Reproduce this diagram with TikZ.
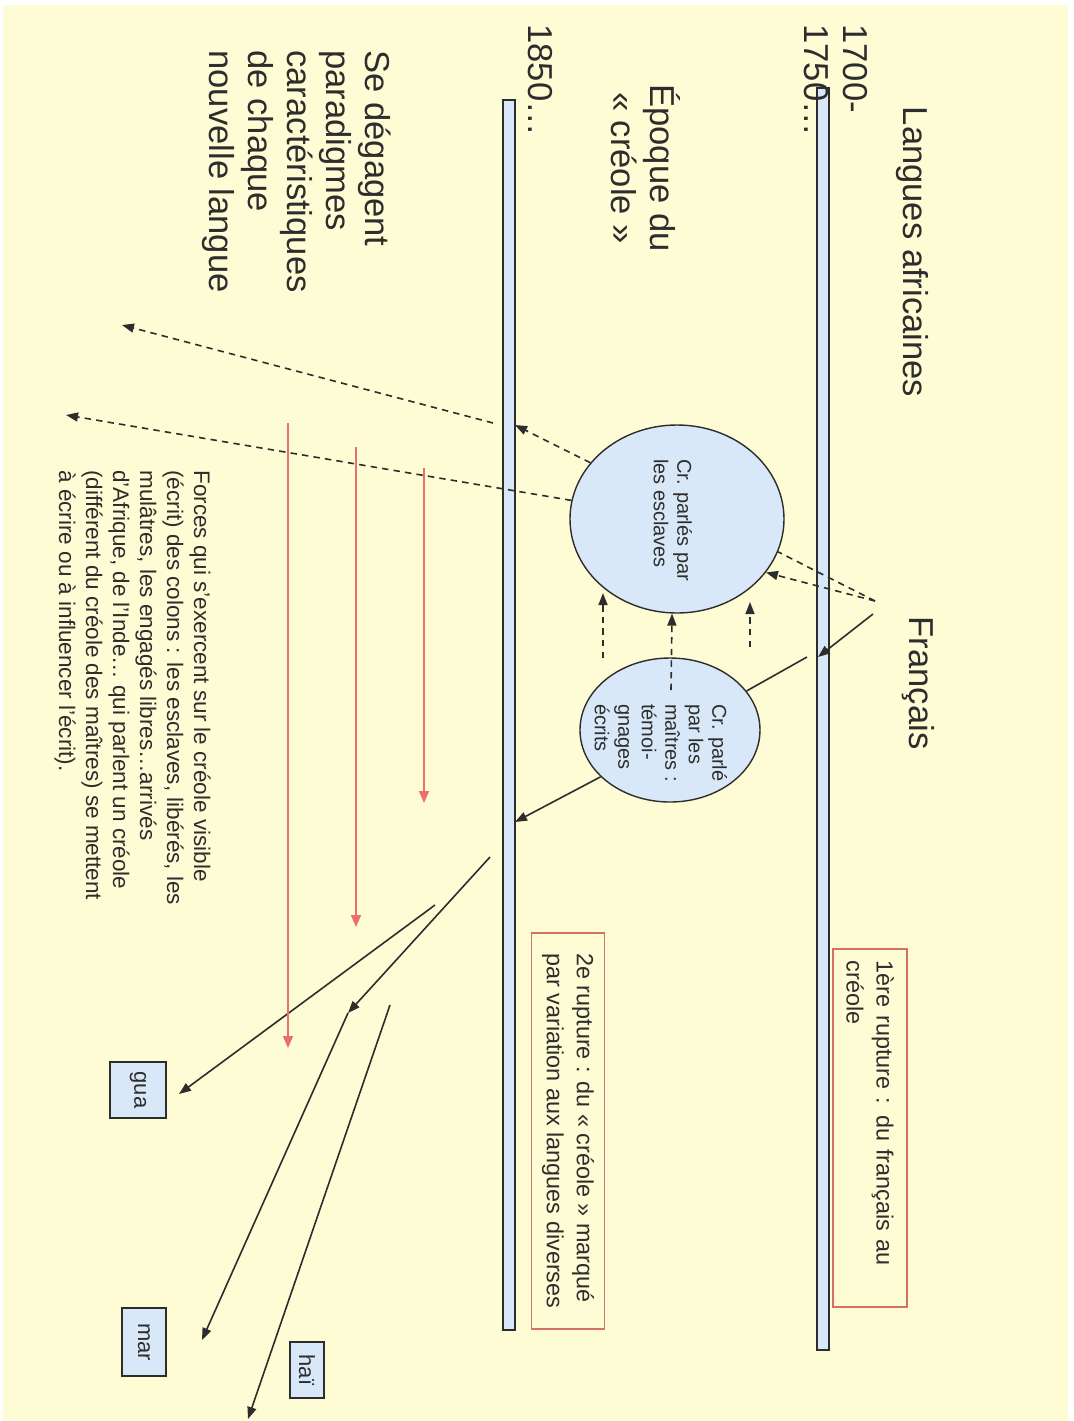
\documentclass[tikz,border=0pt]{standalone}
\usepackage{fontspec}
\setmainfont{Liberation Sans}
\usetikzlibrary{arrows.meta,shapes.geometric}
\definecolor{fond}{RGB}{254,252,212}
\definecolor{bleu}{RGB}{216,232,248}
\definecolor{trait}{RGB}{45,45,45}
\definecolor{saumon}{RGB}{214,112,100}
\definecolor{rouge}{RGB}{236,110,110}

\begin{document}
\begin{tikzpicture}[x=0.5pt, y=-0.5pt,
  every node/.style={rotate=-90, inner sep=0pt, text=trait},
  grand/.style={font=\fontsize{17.3}{19.5}\selectfont},
  moyen/.style={font=\fontsize{11.7}{15}\selectfont},
  petit/.style={font=\fontsize{10}{11.75}\selectfont},
  barre/.style={draw=trait, fill=bleu, line width=0.7pt},
  bulle/.style={draw=trait, fill=bleu, ellipse, line width=0.7pt},
  rupture/.style={draw=saumon, line width=0.8pt, moyen, align=left, inner xsep=6pt, anchor=west},
  langue/.style={draw=trait, fill=bleu, line width=0.7pt, font=\fontsize{11}{13}\selectfont},
  simple/.style={draw=trait, line width=0.8pt},
  fleche/.style={simple, -{Triangle[length=6pt, width=4.5pt]}},
  tirets/.style={simple, dash pattern=on 3.2pt off 2.6pt},
  pointille/.style={tirets, -{Triangle[length=6pt, width=4.5pt]}},
  force/.style={draw=rouge, line width=0.8pt, -{Triangle[length=6pt, width=5pt]}}
]
  % Fond
  \fill[white] (0,0) rectangle (1073,1421);
  \fill[fond] (3,5) rectangle (1068,1421);

  % Barres chronologiques
  \draw[barre] (817,88) rectangle (829,1350);
  \draw[barre] (503,100) rectangle (515,1330);

  % Titres et dates
  \node[grand] (afr) at (912,252) {Langues africaines};
  \node[grand] (fr) at (918,683) {Français};
  \node[grand, align=left, anchor=west] (d1700) at (836,24) {1700-\\1750…};
  \node[grand, align=center] (epoque) at (646,168) {Époque du\\« créole »};
  \node[grand, anchor=west] (d1850) at (540,24) {1850…};
  \node[grand, align=left, anchor=west] (paradigmes) at (297,50) {Se dégagent\\paradigmes\\caractéristiques\\de chaque\\nouvelle langue};

  % Les deux créoles
  \node[bulle, minimum width=94pt, minimum height=107pt] (escl) at (677,519) {};
  \node[petit, align=left] (esclt) at (673,520) {Cr. parlés par\\les esclaves};
  \node[bulle, minimum width=72pt, minimum height=90pt] (maitres) at (670,730) {};
  \node[petit, align=left] (maitrest) at (661,743) {Cr. parlé\\par les\\maîtres :\\témoi-\\gnages\\écrits};

  % Ruptures
  \node[rupture, text width=167pt, minimum height=37pt] (rupt1) at (870,948) {1ère rupture : du français au\\créole};
  \node[rupture, minimum width=198pt, minimum height=36.5pt] (rupt2) at (568,932) {2e rupture : du « créole » marqué\\par variation aux langues diverses};

  % Forces
  \node[align=left, anchor=north west, font=\fontsize{11.25}{13.5}\selectfont] (forces) at (211,470) {Forces qui s'exercent sur le créole visible\\(écrit) des colons : les esclaves, libérés, les\\mulâtres, les engagés libres…arrivés\\d'Afrique, de l'Inde… qui parlent un créole\\(différent du créole des maîtres) se mettent\\à écrire ou à influencer l'écrit).};

  % Nouvelles langues
  \node[langue, minimum width=28pt, minimum height=28pt] (gua) at (138,1090) {gua};
  \node[langue, minimum width=34pt, minimum height=22pt] (mar) at (144,1342) {mar};
  \node[langue, minimum width=28pt, minimum height=17pt] (hai) at (307,1370) {haï};

  % Points de départ et d'arrivée
  \coordinate (frA) at (875,601);
  \coordinate (frB) at (873,614);
  \coordinate (b1A) at (818,657);
  \coordinate (b1B) at (807,657);
  \coordinate (b2A) at (515,425);
  \coordinate (b2B) at (493,423);
  \coordinate (b2C) at (515,822);
  \coordinate (b2D) at (490,857);
  \coordinate (paraA) at (122,325);
  \coordinate (paraB) at (66,415);
  \coordinate (v1) at (603,658);
  \coordinate (v1b) at (603,593);
  \coordinate (v2) at (671,690);
  \coordinate (v3) at (750,647);
  \coordinate (v3b) at (750,602);
  \coordinate (bif) at (348,1013);
  \coordinate (versmar) at (202,1340);
  \coordinate (depgua) at (435,905);
  \coordinate (versgua) at (179,1094);
  \coordinate (dephai) at (390,1005);
  \coordinate (vershai) at (248,1419);

  % Flèches du français
  \draw[tirets] (frA) -- (escl.72);
  \draw[pointille] (frA) -- (escl.59);
  \draw[fleche] (frB) -- (b1A);
  \draw[simple] (b1B) -- (maitres.117);

  % Flèches entre les créoles
  \draw[pointille] (v1) -- (v1b);
  \draw[pointille] (v2) -- (escl.-3.65);
  \draw[pointille] (v3) -- (v3b);
  \draw[pointille] (escl.237) -- (b2A);
  \draw[pointille] (b2B) -- (paraA);
  \draw[pointille] (escl.260) -- (paraB);
  \draw[fleche] (maitres.-56) -- (b2C);

  % Vers les nouvelles langues
  \draw[fleche] (b2D) -- (bif);
  \draw[fleche] (bif) -- (versmar);
  \draw[fleche] (depgua) -- (versgua);
  \draw[fleche] (dephai) -- (vershai);

  % Forces (flèches rouges)
  \coordinate (r1a) at (288,423);
  \coordinate (r1b) at (288,1048);
  \coordinate (r2a) at (356,447);
  \coordinate (r2b) at (356,927);
  \coordinate (r3a) at (424,468);
  \coordinate (r3b) at (424,803);
  \draw[force] (r1a) -- (r1b);
  \draw[force] (r2a) -- (r2b);
  \draw[force] (r3a) -- (r3b);
\end{tikzpicture}
\end{document}
